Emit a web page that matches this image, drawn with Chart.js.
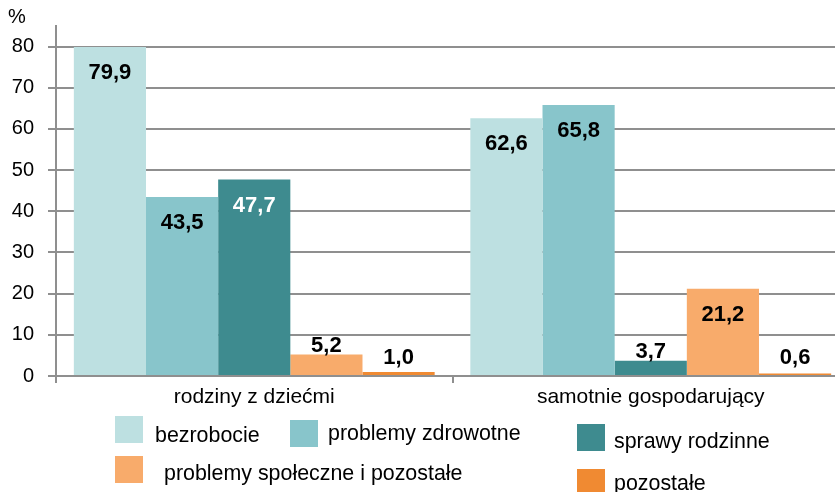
<!DOCTYPE html>
<html><head><meta charset="utf-8">
<script src="https://cdn.jsdelivr.net/npm/chart.js@4.4.0/dist/chart.umd.min.js"></script>
<style>
html,body{margin:0;padding:0;background:#fff;overflow:hidden;width:835px;height:492px;}
#wrap{position:absolute;left:0;top:0;width:862px;height:492px;}
</style></head><body>
<div id="wrap"><canvas id="c"></canvas></div>
<script>
// ---- data ----
const categories = ['rodziny z dziećmi', 'samotnie gospodarujący'];
const seriesNames = ['bezrobocie', 'problemy zdrowotne', 'sprawy rodzinne', 'problemy społeczne i pozostałe', 'pozostałe'];
const bezrobocie = [79.9, 62.6];
const problemyZdrowotne = [43.5, 65.8];
const sprawyRodzinne = [47.7, 3.7];
const problemySpoleczne = [5.2, 21.2];
const pozostale = [1.0, 0.6];
const yTickValues = [0, 10, 20, 30, 40, 50, 60, 70, 80];
const yUnit = '%';

// ---- styles ----
const colors = ['#BDE0E1', '#88C5CB', '#3E8B8F', '#F8AB6B', '#F08A32'];
const insideLabelColors = ['#000', '#000', '#fff', '#000', '#000'];
const FONT = "'Liberation Sans', Arial, sans-serif";
const GRID = '#8f8f8f';
// legend layout: [boxX, boxY, textX, textCenterY]
const legendLayout = [
  [115, 416, 155, 436],
  [290, 420, 328, 434],
  [577, 424, 614, 442],
  [115, 456, 164, 474],
  [577, 469, 614, 484]
];

const allSeries = [bezrobocie, problemyZdrowotne, sprawyRodzinne, problemySpoleczne, pozostale];

Chart.defaults.font.family = FONT;
Chart.defaults.color = '#000';

const datasets = allSeries.map((d, i) => ({
  label: seriesNames[i],
  data: d,
  backgroundColor: colors[i],
  borderWidth: 0,
  categoryPercentage: 0.91,
  barPercentage: 1.0,
  insideLabelColor: insideLabelColors[i]
}));

const labelPlugin = {
  id: 'valueLabels',
  afterDatasetsDraw(chart) {
    const ctx = chart.ctx;
    const yScale = chart.scales.y;
    const zero = yScale.getPixelForValue(0);
    ctx.save();
    ctx.font = 'bold 22px ' + FONT;
    ctx.textAlign = 'center';
    ctx.textBaseline = 'middle';
    chart.data.datasets.forEach((ds, i) => {
      const meta = chart.getDatasetMeta(i);
      meta.data.forEach((bar, j) => {
        const v = ds.data[j];
        const txt = v.toFixed(1).replace('.', ',');
        let y, col;
        if (v >= 10) { y = bar.y + 26; col = ds.insideLabelColor; }
        else { y = Math.min(bar.y - 9, zero - 18); col = '#000'; }
        ctx.fillStyle = col;
        ctx.fillText(txt, bar.x, y);
      });
    });
    ctx.restore();
  }
};

const legendPlugin = {
  id: 'customLegend',
  afterDraw(chart) {
    const ctx = chart.ctx;
    ctx.save();
    ctx.font = '20px ' + FONT;
    ctx.fillStyle = '#000';
    ctx.textAlign = 'left';
    ctx.textBaseline = 'middle';
    ctx.fillText(yUnit, 8, 17);
    chart.data.datasets.forEach((ds, i) => {
      const [bx, by, tx, ty] = legendLayout[i];
      ctx.fillStyle = ds.backgroundColor;
      ctx.fillRect(bx, by, 28, 27);
      ctx.fillStyle = '#000';
      ctx.font = '21.4px ' + FONT;
      ctx.fillText(ds.label, tx, ty);
    });
    ctx.restore();
  }
};

new Chart(document.getElementById('c'), {
  type: 'bar',
  data: { labels: categories, datasets },
  options: {
    responsive: true,
    maintainAspectRatio: false,
    animation: false,
    layout: { padding: { left: 0, right: 13, top: 26, bottom: 0 } },
    plugins: { legend: { display: false }, tooltip: { enabled: false } },
    scales: {
      x: {
        grid: { display: true, drawOnChartArea: false, drawTicks: true, tickLength: 7, color: GRID, lineWidth: 2 },
        border: { display: true, color: GRID, width: 2 },
        ticks: { font: { size: 21 }, color: '#000', padding: 2, maxRotation: 0 },
        afterFit(scale) { scale.height = 116; }
      },
      y: {
        min: 0,
        max: 85,
        afterBuildTicks(scale) { scale.ticks = yTickValues.map(v => ({ value: v })); },
        grid: { color: GRID, lineWidth: 2, tickLength: 8, drawTicks: true },
        border: { display: true, color: GRID, width: 2 },
        ticks: { font: { size: 20 }, color: '#000', padding: 14, callback: v => String(v) },
        afterFit(scale) { scale.width = 56; }
      }
    }
  },
  plugins: [labelPlugin, legendPlugin]
});
</script>
</body></html>
